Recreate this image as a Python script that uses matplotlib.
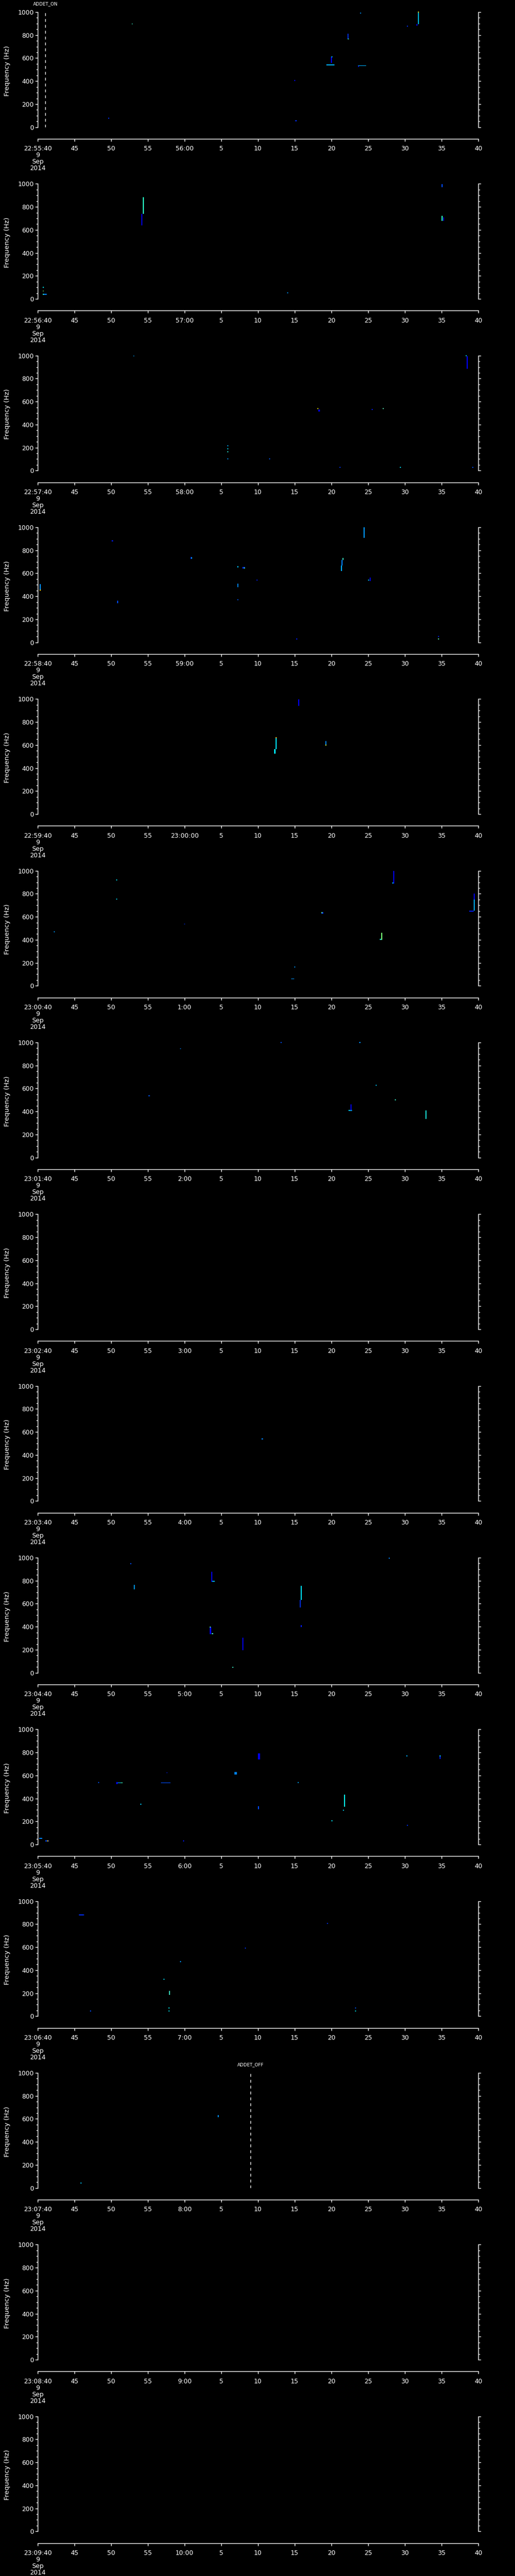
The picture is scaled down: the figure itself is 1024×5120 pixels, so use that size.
import matplotlib
matplotlib.use('Agg')
import matplotlib.pyplot as plt
from matplotlib.ticker import MultipleLocator
from matplotlib import cm

plt.rcParams['font.family'] = ['DejaVu Sans']

# Time axis: 15 one-minute panels, first starts at 22:55:40 on 9 Sep 2014
n_panels = 15
start_hour = 22
start_minute = 55
start_second = 40
date_lines = ['9', 'Sep', '2014']
tick_step = 5

# Detection marks: panel index, time span (s after panel start), frequency span (Hz), jet level
mark_panel = [
    0, 0, 0, 0, 0, 0, 0, 0, 0, 0, 0, 0, 0, 0, 0, 0,
    1, 1, 1, 1, 1, 1, 1, 1, 1, 1,
    2, 2, 2, 2, 2, 2, 2, 2, 2, 2, 2, 2, 2, 2, 2,
    3, 3, 3, 3, 3, 3, 3, 3, 3, 3, 3, 3, 3, 3, 3, 3, 3, 3, 3, 3, 3,
    4, 4, 4, 4, 4, 4,
    5, 5, 5, 5, 5, 5, 5, 5, 5, 5, 5, 5, 5, 5, 5,
    6, 6, 6, 6, 6, 6, 6, 6, 6,
    8,
    9, 9, 9, 9, 9, 9, 9, 9, 9, 9, 9, 9, 9,
    10, 10, 10, 10, 10, 10, 10, 10, 10, 10, 10, 10, 10, 10, 10, 10, 10, 10, 10, 10, 10, 10,
    11, 11, 11, 11, 11, 11, 11, 11, 11, 11, 11,
    12, 12,
]
mark_t0 = [
    12.8, 9.6, 34.9, 35.1, 39.3, 39.9, 40.0, 42.2, 42.2, 43.6, 43.6, 43.9, 50.3, 51.6, 51.8, 51.8,
    0.68, 0.68, 0.7, 0.7, 14.1, 14.3, 34.0, 55.0, 55.0, 55.2,
    13.0, 25.8, 25.8, 25.8, 25.8, 31.5, 38.1, 38.2, 45.5, 47.0, 41.1, 49.3, 59.2, 58.3, 58.4,
    0.3, 0.3, 10.1, 10.8, 20.8, 20.9, 27.2, 27.9, 28.1, 27.2, 27.2, 29.8, 35.2, 41.3, 41.4, 41.5,
    44.4, 45.0, 45.2, 54.5, 54.5,
    35.5, 32.2, 32.4, 32.4, 39.2, 39.2,
    2.2, 10.7, 10.7, 19.9, 34.9, 34.5, 38.6, 38.6, 46.6, 46.8, 48.4, 48.3, 58.8, 59.4, 59.4,
    15.1, 19.4, 33.1, 43.8, 46.0, 48.6, 42.3, 42.6, 52.8,
    30.5,
    12.6, 13.1, 23.6, 23.8, 23.4, 23.4, 23.7, 27.9, 26.5, 35.8, 35.7, 35.8, 47.8,
    0.2, 1.0, 1.3, 8.2, 10.7, 10.7, 11.3, 14.0, 16.8, 17.5, 19.8, 26.8, 30.0, 30.0, 35.4, 40.0,
    41.7, 41.6, 50.2, 50.3, 54.7, 54.7,
    5.6, 7.1, 17.1, 17.8, 17.8, 17.9, 19.4, 28.2, 39.4, 43.2, 43.2,
    5.8, 24.5,
]
mark_t1 = [
    12.8, 9.6, 34.9, 35.1, 40.4, 39.9, 40.0, 42.2, 42.4, 44.7, 43.8, 43.9, 50.3, 51.6, 51.8, 51.8,
    0.68, 0.68, 1.2, 0.7, 14.2, 14.3, 34.0, 55.0, 55.0, 55.2,
    13.0, 25.8, 25.8, 25.8, 25.8, 31.5, 38.1, 38.4, 45.5, 47.1, 41.1, 49.3, 59.2, 58.3, 58.5,
    0.3, 0.3, 10.1, 10.8, 20.8, 20.9, 27.2, 28.2, 28.1, 27.2, 27.2, 29.8, 35.2, 41.3, 41.4, 41.5,
    44.4, 45.0, 45.2, 54.5, 54.5,
    35.5, 32.4, 32.4, 32.4, 39.2, 39.3,
    2.2, 10.7, 10.7, 19.9, 34.9, 34.9, 38.9, 38.6, 46.8, 46.8, 48.4, 48.3, 59.4, 59.4, 59.4,
    15.1, 19.4, 33.1, 43.8, 46.0, 48.6, 42.8, 42.6, 52.8,
    30.7,
    12.6, 13.1, 23.8, 24.1, 23.6, 23.4, 23.9, 27.9, 26.6, 35.8, 35.7, 35.8, 47.8,
    0.6, 1.5, 1.4, 8.2, 11.6, 10.9, 11.6, 14.0, 18.1, 17.5, 19.8, 27.1, 30.3, 30.0, 35.4, 40.0,
    41.7, 41.6, 50.2, 50.3, 54.7, 54.7,
    6.3, 7.1, 17.1, 17.8, 17.8, 17.9, 19.4, 28.2, 39.4, 43.2, 43.2,
    5.8, 24.5,
]
mark_f0 = [
    893, 74, 402, 52, 536, 559, 605, 770, 762, 530, 525, 989, 875, 880, 893, 995,
    95, 64, 35, 35, 640, 740, 50, 969, 677, 677,
    992, 212, 186, 161, 98, 98, 537, 515, 527, 534, 25, 25, 25, 996, 887,
    450, 450, 877, 341, 724, 730, 649, 643, 643, 479, 368, 535, 26, 621, 668, 715,
    909, 538, 530, 26, 48,
    942, 527, 563, 659, 600, 595,
    467, 915, 750, 533, 161, 57, 628, 633, 401, 401, 890, 890, 646, 655, 751,
    532, 941, 995, 995, 624, 498, 407, 410, 337,
    535,
    944, 726, 791, 789, 336, 393, 334, 197, 41, 632, 569, 398, 993,
    50, 26, 26, 534, 532, 524, 532, 346, 532, 619, 26, 607, 740, 305, 534, 201,
    327, 295, 764, 164, 743, 765,
    877, 41, 317, 69, 41, 186, 470, 588, 803, 69, 41,
    38, 614,
]
mark_f1 = [
    893, 74, 410, 52, 542, 610, 615, 810, 768, 537, 532, 989, 875, 895, 1000, 1003,
    95, 64, 40, 40, 740, 883, 50, 998, 721, 710,
    1000, 212, 186, 161, 98, 98, 537, 530, 527, 534, 25, 25, 25, 996, 996,
    506, 455, 887, 362, 741, 735, 664, 655, 648, 511, 368, 545, 26, 668, 715, 735,
    1000, 538, 562, 26, 48,
    998, 563, 659, 666, 633, 600,
    467, 915, 750, 533, 161, 61, 638, 638, 410, 460, 1000, 895, 655, 751, 800,
    532, 941, 1000, 1000, 624, 498, 412, 460, 410,
    545,
    944, 763, 877, 793, 396, 398, 338, 304, 41, 756, 632, 414, 1000,
    50, 26, 26, 534, 536, 543, 536, 346, 536, 619, 26, 629, 791, 334, 534, 201,
    432, 295, 764, 164, 769, 769,
    877, 41, 317, 69, 41, 219, 470, 588, 803, 69, 41,
    38, 633,
]
mark_level = [
    0.42, 0.17, 0.12, 0.17, 0.30, 0.12, 0.31, 0.17, 0.42, 0.30, 0.12, 0.25, 0.17, 0.12, 0.31, 0.68,
    0.35, 0.50, 0.25, 0.40, 0.12, 0.40, 0.25, 0.20, 0.40, 0.12,
    0.28, 0.28, 0.33, 0.40, 0.25, 0.20, 0.68, 0.12, 0.15, 0.45, 0.17, 0.33, 0.20, 0.33, 0.12,
    0.27, 0.68, 0.15, 0.20, 0.15, 0.33, 0.30, 0.17, 0.42, 0.25, 0.20, 0.15, 0.15, 0.30, 0.25, 0.42,
    0.28, 0.31, 0.12, 0.45, 0.15,
    0.12, 0.35, 0.35, 0.72, 0.25, 0.60,
    0.25, 0.33, 0.31, 0.17, 0.25, 0.27, 0.17, 0.45, 0.38, 0.50, 0.12, 0.33, 0.15, 0.30, 0.12,
    0.20, 0.25, 0.20, 0.25, 0.30, 0.42, 0.31, 0.12, 0.38,
    0.25,
    0.20, 0.27, 0.12, 0.30, 0.12, 0.45, 0.42, 0.12, 0.42, 0.35, 0.17, 0.15, 0.25,
    0.25, 0.20, 0.70, 0.20, 0.30, 0.12, 0.42, 0.33, 0.20, 0.15, 0.15, 0.25, 0.12, 0.20, 0.27, 0.35,
    0.36, 0.31, 0.30, 0.17, 0.15, 0.35,
    0.17, 0.20, 0.33, 0.35, 0.35, 0.42, 0.27, 0.17, 0.17, 0.20, 0.35,
    0.31, 0.27,
]

# Flagged events (dashed lines)
event_panel = [0, 12]
event_time = [1.05, 29.0]
event_label = ['ADDET_ON', 'ADDET_OFF']

min_width = 0.14   # s
min_height = 8     # Hz

fig_w, fig_h = 1024, 5120
fig = plt.figure(figsize=(fig_w / 100, fig_h / 100), dpi=100, facecolor='black')
cmap = cm.get_cmap('jet') if hasattr(cm, 'get_cmap') else matplotlib.colormaps['jet']

panel_h = fig_h / n_panels
left_px, width_px = 75, 876
top_px, plot_h = 24, 228.7


def tick_labels(k):
    labels = []
    for s in range(0, 61, tick_step):
        total = start_hour * 3600 + (start_minute + k) * 60 + start_second + s
        hh, mm, ss = total // 3600, (total // 60) % 60, total % 60
        if s == 0:
            labels.append('%d:%02d:%02d\n' % (hh, mm, ss) + '\n'.join(date_lines))
        elif ss == 0 and mm == 0:
            labels.append('%d:%02d:%02d' % (hh, mm, ss))
        elif ss == 0:
            labels.append('%d:%02d' % (mm, ss))
        else:
            labels.append('%d' % ss)
    return labels


for k in range(n_panels):
    bottom = 1 - (k * panel_h + top_px + plot_h) / fig_h
    ax = fig.add_axes([left_px / fig_w, bottom, width_px / fig_w, plot_h / fig_h])
    ax.set_facecolor('black')
    ax.set_xlim(0, 60)
    ax.set_ylim(0, 1000)

    # marks of this panel
    for p, t0, t1, f0, f1, lv in zip(mark_panel, mark_t0, mark_t1, mark_f0, mark_f1, mark_level):
        if p != k:
            continue
        ax.bar(t0, max(f1 - f0, min_height), width=max(t1 - t0, min_width), bottom=f0,
               align='edge', color=cmap(lv), linewidth=0, clip_on=False)

    for p, t, lab in zip(event_panel, event_time, event_label):
        if p != k:
            continue
        ax.axvline(t, color='white', lw=1.0, ls=(0, (4.1, 4.3)))
        ax.annotate(lab, xy=(t, 1.0), xycoords=('data', 'axes fraction'),
                    xytext=(0, 12), textcoords='offset points',
                    ha='center', va='center', color='white', fontsize=6.5)

    for side in ['top']:
        ax.spines[side].set_visible(False)
    for side in ['left', 'right', 'bottom']:
        ax.spines[side].set_color('white')
        ax.spines[side].set_linewidth(1.0)
    ax.spines['bottom'].set_position(('outward', 16.8))

    ax.yaxis.set_major_locator(MultipleLocator(200))
    ax.yaxis.set_minor_locator(MultipleLocator(50))
    ax.tick_params(axis='y', which='both', direction='out', left=True, right=True,
                   labelleft=True, labelright=False, colors='white', labelsize=9, pad=2)
    ax.tick_params(axis='y', which='major', length=3.6, width=1.0)
    ax.tick_params(axis='y', which='minor', length=2.2, width=1.0)

    ax.set_xticks(list(range(0, 61, tick_step)), tick_labels(k), linespacing=1.0)
    ax.tick_params(axis='x', which='major', direction='out', length=3.6, width=1.0,
                   colors='white', labelsize=9, pad=6)

    ax.set_ylabel('Frequency (Hz)', color='white', fontsize=9.5)
    ax.yaxis.set_label_coords(-0.0616, 0.49)

fig.savefig('out.png', dpi=100, facecolor='black')
